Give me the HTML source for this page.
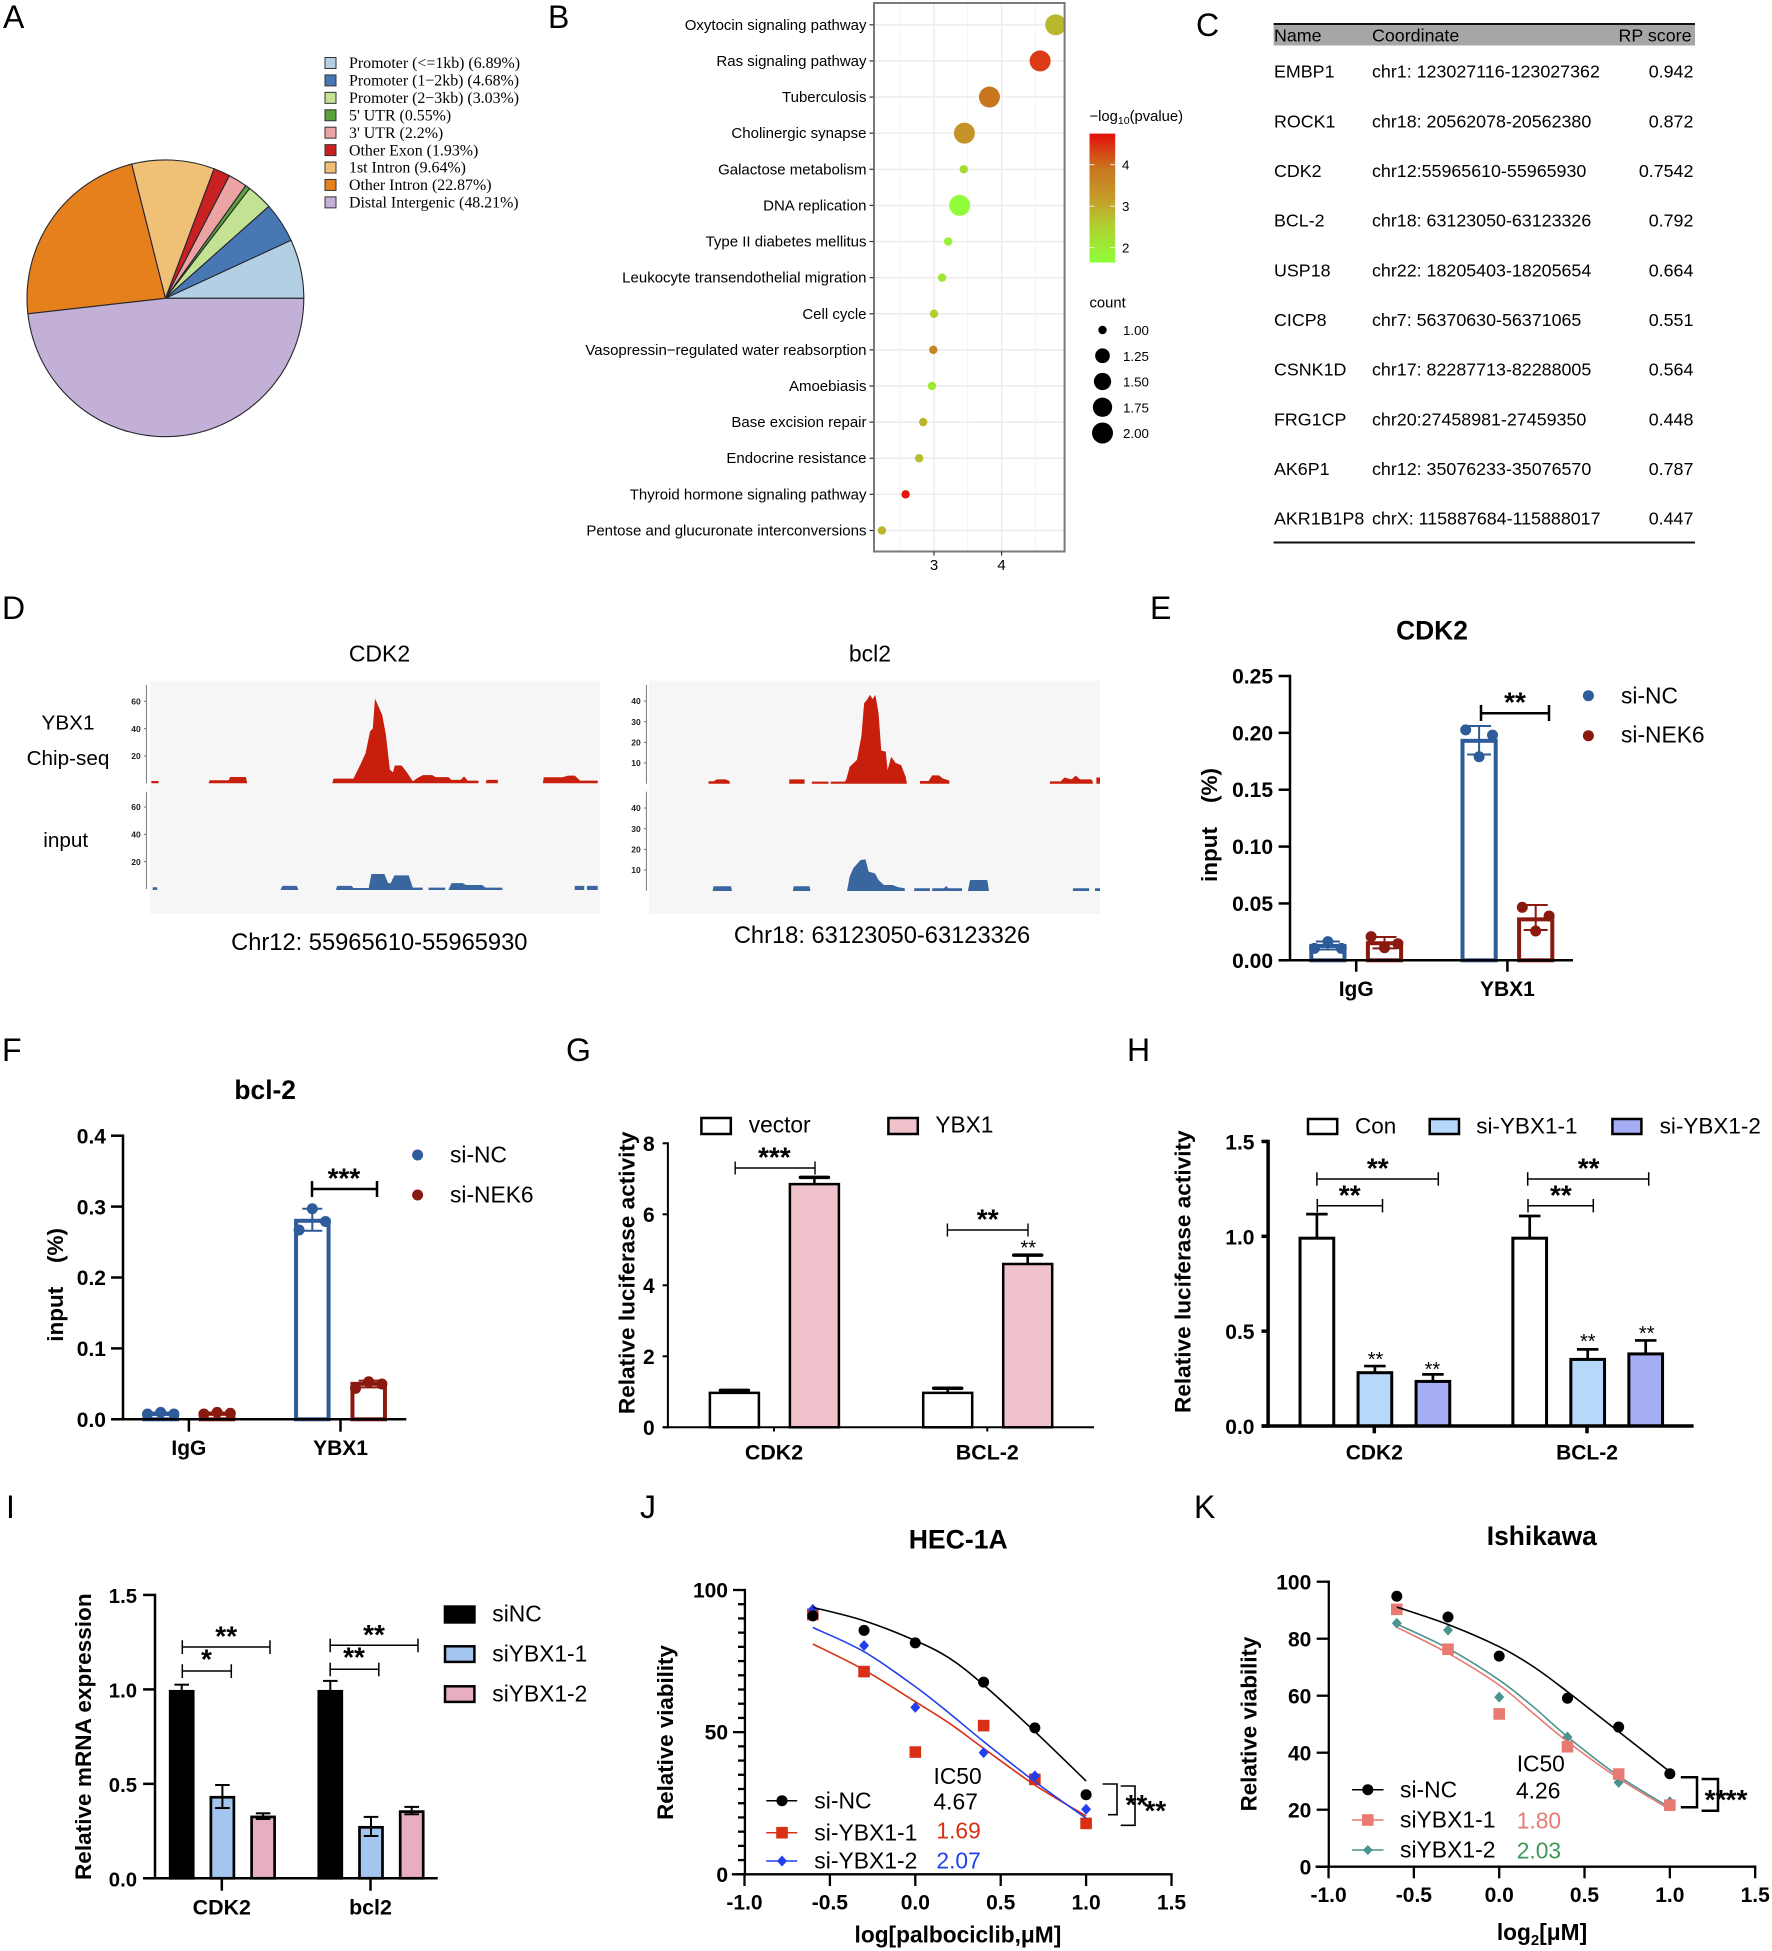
<!DOCTYPE html>
<html lang="en">
<head>
<meta charset="utf-8">
<title>YBX1 ChIP-seq and viability figure</title>
<style>
html,body{margin:0;padding:0;background:#fff}
svg{display:block;filter:blur(0.35px)}
</style>
</head>
<body>
<svg id="fig" xmlns="http://www.w3.org/2000/svg" width="1772" height="1951" viewBox="0 0 1772 1951" font-family="'Liberation Sans', sans-serif">
<defs>
  <linearGradient id="cbar" x1="0" y1="1" x2="0" y2="0"></linearGradient>
  <clipPath id="bclip"><rect x="874" y="3" width="190.6" height="548.5"></rect></clipPath>
</defs>
<rect x="0" y="0" width="1772" height="1951" fill="#fff"/>

<g font-size="32">
  <text x="3" y="28">A</text>
  <text x="548" y="28">B</text>
  <text x="1196" y="36">C</text>
  <text x="2" y="619">D</text>
  <text x="1150" y="619">E</text>
  <text x="2" y="1061">F</text>
  <text x="566" y="1061">G</text>
  <text x="1127" y="1061">H</text>
  <text x="6" y="1518">I</text>
  <text x="640" y="1518">J</text>
  <text x="1194" y="1518">K</text>
</g>

<!-- Panel A -->
<g id="panel-a"></g>

<!-- Panel B -->
<g id="panel-b">
  <rect x="874" y="3" width="190.6" height="548.5" fill="#fff"/>
  <g id="panel-b-grid"></g>
  <g id="panel-b-dots" clip-path="url(#bclip)"></g>
  <rect x="874" y="3" width="190.6" height="548.5" fill="none" stroke="#7a7a7a" stroke-width="2"/>
  <text x="1089.5" y="121" font-size="14.8">−log<tspan font-size="10.5" dy="3">10</tspan><tspan dy="-3">(pvalue)</tspan></text>
  <rect x="1089.5" y="133.6" width="25.7" height="129" fill="url(#cbar)"/>
  <text x="1089.5" y="307.7" font-size="14.8">count</text>
</g>

<!-- Panel C -->
<g id="panel-c" font-size="17.85">
  <rect x="1273.6" y="24" width="421.4" height="21.5" fill="#a6a6a6"/>
  <line x1="1273.6" x2="1695" y1="24" y2="24" stroke="#111" stroke-width="2"/>
  <line x1="1273.6" x2="1695" y1="542.5" y2="542.5" stroke="#111" stroke-width="2"/>
  <text x="1274" y="41.5">Name</text>
  <text x="1372" y="41.5">Coordinate</text>
  <text x="1691.5" y="41.5" text-anchor="end">RP score</text>
  <g><text x="1274" y="77.6">EMBP1</text><text x="1372" y="77.6">chr1: 123027116-123027362</text><text x="1693.4" y="77.6" text-anchor="end">0.942</text></g>
  <g><text x="1274" y="127.3">ROCK1</text><text x="1372" y="127.3">chr18: 20562078-20562380</text><text x="1693.4" y="127.3" text-anchor="end">0.872</text></g>
  <g><text x="1274" y="176.9">CDK2</text><text x="1372" y="176.9">chr12:55965610-55965930</text><text x="1693.4" y="176.9" text-anchor="end">0.7542</text></g>
  <g><text x="1274" y="226.6">BCL-2</text><text x="1372" y="226.6">chr18: 63123050-63123326</text><text x="1693.4" y="226.6" text-anchor="end">0.792</text></g>
  <g><text x="1274" y="276.3">USP18</text><text x="1372" y="276.3">chr22: 18205403-18205654</text><text x="1693.4" y="276.3" text-anchor="end">0.664</text></g>
  <g><text x="1274" y="325.9">CICP8</text><text x="1372" y="325.9">chr7: 56370630-56371065</text><text x="1693.4" y="325.9" text-anchor="end">0.551</text></g>
  <g><text x="1274" y="375.6">CSNK1D</text><text x="1372" y="375.6">chr17: 82287713-82288005</text><text x="1693.4" y="375.6" text-anchor="end">0.564</text></g>
  <g><text x="1274" y="425.3">FRG1CP</text><text x="1372" y="425.3">chr20:27458981-27459350</text><text x="1693.4" y="425.3" text-anchor="end">0.448</text></g>
  <g><text x="1274" y="475">AK6P1</text><text x="1372" y="475">chr12: 35076233-35076570</text><text x="1693.4" y="475" text-anchor="end">0.787</text></g>
  <g><text x="1274" y="524.6">AKR1B1P8</text><text x="1372" y="524.6">chrX: 115887684-115888017</text><text x="1693.4" y="524.6" text-anchor="end">0.447</text></g>
</g>

<!-- Panel D -->
<g id="panel-d">
  <rect x="150" y="680.7" width="450" height="233.3" fill="#f6f6f6"/>
  <rect x="649" y="680.7" width="451" height="233.3" fill="#f6f6f6"/>
  <text x="379.5" y="661.7" font-size="23" text-anchor="middle">CDK2</text>
  <text x="870" y="661.7" font-size="23" text-anchor="middle">bcl2</text>
  <text x="68" y="729.3" font-size="20.7" text-anchor="middle">YBX1</text>
  <text x="68" y="765" font-size="20.7" text-anchor="middle">Chip-seq</text>
  <text x="65.7" y="847" font-size="20.7" text-anchor="middle">input</text>
  <text x="379.3" y="950" font-size="23.7" text-anchor="middle">Chr12: 55965610-55965930</text>
  <text x="882" y="943" font-size="23.7" text-anchor="middle">Chr18: 63123050-63123326</text>
</g>

<!-- Panel E -->
<g id="panel-e">
  <text x="1432" y="639.3" font-size="26.4" font-weight="bold" text-anchor="middle">CDK2</text>
  <text transform="translate(1217,882) rotate(-90)" font-size="22.5" font-weight="bold">input</text>
  <text transform="translate(1217,803) rotate(-90)" font-size="22.5" font-weight="bold">(%)</text>
  <path d="M1481 705V721M1481 713.3H1549M1549 705V721" fill="none" stroke="#000" stroke-width="2.5"/>
  <text x="1515" y="711.7" font-size="28" font-weight="bold" text-anchor="middle">**</text>
  <circle cx="1588.4" cy="695.7" r="5.5" fill="#2e5b9a"/>
  <text x="1621" y="703.3" font-size="22.8">si-NC</text>
  <circle cx="1588.4" cy="735.7" r="5.5" fill="#8a1a0f"/>
  <text x="1621" y="742.7" font-size="22.8">si-NEK6</text>
</g>

<!-- Panel F -->
<g id="panel-f">
  <text x="265.2" y="1099" font-size="26.4" font-weight="bold" text-anchor="middle">bcl-2</text>
  <text transform="translate(63.2,1341.7) rotate(-90)" font-size="22.5" font-weight="bold">input</text>
  <text transform="translate(63.2,1263) rotate(-90)" font-size="22.5" font-weight="bold">(%)</text>
  <path d="M312 1181V1197M312 1189H377M377 1181V1197" fill="none" stroke="#000" stroke-width="2.5"/>
  <text x="344" y="1187.7" font-size="28" font-weight="bold" text-anchor="middle">***</text>
  <circle cx="417.6" cy="1155" r="5.5" fill="#2e5b9a"/>
  <text x="450" y="1162.7" font-size="22.8">si-NC</text>
  <circle cx="417.6" cy="1195" r="5.5" fill="#8a1a0f"/>
  <text x="450" y="1202.7" font-size="22.8">si-NEK6</text>
</g>

<!-- Panel G -->
<g id="panel-g">
  <rect x="701.4" y="1118" width="29.4" height="16" fill="#fff" stroke="#000" stroke-width="2.5"/>
  <text x="748.8" y="1132.7" font-size="22.7">vector</text>
  <rect x="888.4" y="1118" width="29.4" height="16" fill="#f0c2cb" stroke="#000" stroke-width="2.5"/>
  <text x="935.4" y="1132.7" font-size="22.7">YBX1</text>
  <text transform="translate(634.4,1272.8) rotate(-90)" font-size="22.6" font-weight="bold" text-anchor="middle">Relative luciferase activity</text>
  <path d="M735.2 1161.5V1174.5M735.2 1168H815M815 1161.5V1174.5" fill="none" stroke="#000" stroke-width="1.4"/>
  <text x="774.3" y="1166.7" font-size="28" font-weight="bold" text-anchor="middle">***</text>
  <path d="M947.4 1223.5V1236.5M947.4 1230H1028M1028 1223.5V1236.5" fill="none" stroke="#000" stroke-width="1.4"/>
  <text x="987.7" y="1228.7" font-size="28" font-weight="bold" text-anchor="middle">**</text>
  <text x="1028.3" y="1254.6" font-size="20" text-anchor="middle">**</text>
</g>

<!-- Panel H -->
<g id="panel-h">
  <rect x="1308" y="1119" width="29.2" height="15" fill="#fff" stroke="#000" stroke-width="2.5"/>
  <text x="1355" y="1133.3" font-size="22.5">Con</text>
  <rect x="1429.7" y="1119" width="29.3" height="15" fill="#b5d8fb" stroke="#000" stroke-width="2.5"/>
  <text x="1476.2" y="1133.3" font-size="22.5">si-YBX1-1</text>
  <rect x="1612.4" y="1119" width="29" height="15" fill="#a5aef5" stroke="#000" stroke-width="2.5"/>
  <text x="1659.6" y="1133.3" font-size="22.5">si-YBX1-2</text>
  <text transform="translate(1190.4,1271.7) rotate(-90)" font-size="22.6" font-weight="bold" text-anchor="middle">Relative luciferase activity</text>
  <path d="M1316.9 1172.3V1185.7M1316.9 1179H1438.3M1438.3 1172.3V1185.7" fill="none" stroke="#000" stroke-width="1.5"/>
  <path d="M1317.3 1199V1212.4M1317.3 1205.7H1382.5M1382.5 1199V1212.4" fill="none" stroke="#000" stroke-width="1.5"/>
  <path d="M1527.7 1172.3V1185.7M1527.7 1179H1648.7M1648.7 1172.3V1185.7" fill="none" stroke="#000" stroke-width="1.5"/>
  <path d="M1528 1199V1212.4M1528 1205.7H1593.3M1593.3 1199V1212.4" fill="none" stroke="#000" stroke-width="1.5"/>
  <g font-size="28" font-weight="bold" text-anchor="middle">
    <text x="1377.8" y="1177.7">**</text><text x="1349.7" y="1204.7">**</text><text x="1588.6" y="1177.7">**</text><text x="1560.9" y="1204.7">**</text>
  </g>
  <g font-size="20" text-anchor="middle">
    <text x="1375.5" y="1366">**</text><text x="1432.4" y="1376">**</text><text x="1587.8" y="1348">**</text><text x="1646.7" y="1340">**</text>
  </g>
</g>

<!-- Panel I -->
<g id="panel-i">
  <text transform="translate(91,1736.7) rotate(-90)" font-size="22.6" font-weight="bold" text-anchor="middle">Relative mRNA expression</text>
  <rect x="443.7" y="1605.3" width="32" height="18.4" fill="#000"/>
  <text x="492.3" y="1621.7" font-size="22.8">siNC</text>
  <rect x="445" y="1646.3" width="29.4" height="15.6" fill="#a3c5ee" stroke="#000" stroke-width="2.5"/>
  <text x="492.3" y="1661.7" font-size="22.8">siYBX1-1</text>
  <rect x="445" y="1686.3" width="29.4" height="15.6" fill="#e7aec2" stroke="#000" stroke-width="2.5"/>
  <text x="492.3" y="1701.7" font-size="22.8">siYBX1-2</text>
  <path d="M182.3 1640.3V1654M182.3 1647H270M270 1640.3V1654" fill="none" stroke="#000" stroke-width="1.5"/>
  <path d="M182.3 1664.3V1678M182.3 1671H231.3M231.3 1664.3V1678" fill="none" stroke="#000" stroke-width="1.5"/>
  <path d="M330.2 1638.6V1652.3M330.2 1645.3H418M418 1638.6V1652.3" fill="none" stroke="#000" stroke-width="1.5"/>
  <path d="M330.2 1662.6V1676.3M330.2 1669.3H378.8M378.8 1662.6V1676.3" fill="none" stroke="#000" stroke-width="1.5"/>
  <g font-size="28" font-weight="bold" text-anchor="middle">
    <text x="226.2" y="1645.7">**</text><text x="206.4" y="1668.7">*</text><text x="374" y="1644.2">**</text><text x="354" y="1666.7">**</text>
  </g>
</g>

<!-- Panel J -->
<g id="panel-j">
  <text x="958.2" y="1548.3" font-size="26.6" font-weight="bold" text-anchor="middle">HEC-1A</text>
  <text transform="translate(672.9,1732.5) rotate(-90)" font-size="22.3" font-weight="bold" text-anchor="middle">Relative viability</text>
  <text x="957.9" y="1942.7" font-size="22.7" font-weight="bold" text-anchor="middle">log[palbociclib,μM]</text>
  <g>
    <line x1="766.3" x2="797.2" y1="1800.7" y2="1800.7" stroke="#000" stroke-width="1.5"/><circle cx="782" cy="1800.7" r="5.5" fill="#000"/>
    <text x="814.3" y="1808.3" font-size="22.9">si-NC</text>
  </g>
  <g>
    <line x1="766.3" x2="797.2" y1="1832.7" y2="1832.7" stroke="#d93015" stroke-width="1.5"/><rect x="776.2" y="1826.9" width="11.6" height="11.6" fill="#d93015"/>
    <text x="814.3" y="1840.7" font-size="22.9">si-YBX1-1</text>
  </g>
  <g>
    <line x1="766.3" x2="797.2" y1="1861" y2="1861" stroke="#2040f0" stroke-width="1.5"/><path d="M782 1855.5L787 1861L782 1866.5L777 1861Z" fill="#2040f0"/>
    <text x="814.3" y="1868.7" font-size="22.9">si-YBX1-2</text>
  </g>
  <text x="933.5" y="1784" font-size="22.8">IC50</text>
  <text x="933.5" y="1809.3" font-size="22.8">4.67</text>
  <text x="936.4" y="1838.3" font-size="22.8" fill="#d93015">1.69</text>
  <text x="936.4" y="1868.3" font-size="22.8" fill="#2040f0">2.07</text>
  <path d="M1102.6 1784H1117V1814.7H1108" fill="none" stroke="#000" stroke-width="1.6"/>
  <path d="M1120.7 1786H1135V1825.3H1120.7" fill="none" stroke="#000" stroke-width="1.6"/>
  <text x="1136.4" y="1814" font-size="28" font-weight="bold" text-anchor="middle">**</text>
  <text x="1155.3" y="1820" font-size="28" font-weight="bold" text-anchor="middle">**</text>
</g>

<!-- Panel K -->
<g id="panel-k">
  <text x="1541.8" y="1545" font-size="26.4" font-weight="bold" text-anchor="middle">Ishikawa</text>
  <text transform="translate(1256.5,1724) rotate(-90)" font-size="22.3" font-weight="bold" text-anchor="middle">Relative viability</text>
  <text x="1542" y="1940" font-size="22.7" font-weight="bold" text-anchor="middle">log<tspan font-size="15" dy="5">2</tspan><tspan dy="-5">[μM]</tspan></text>
  <g>
    <line x1="1352" x2="1383.5" y1="1789.7" y2="1789.7" stroke="#000" stroke-width="1.5"/><circle cx="1367.8" cy="1789.7" r="5.5" fill="#000"/>
    <text x="1400" y="1797.3" font-size="22.9">si-NC</text>
  </g>
  <g>
    <line x1="1352" x2="1383.5" y1="1820" y2="1820" stroke="#e87a74" stroke-width="1.5"/><rect x="1362" y="1814.2" width="11.6" height="11.6" fill="#e87a74"/>
    <text x="1400" y="1827.7" font-size="22.9">siYBX1-1</text>
  </g>
  <g>
    <line x1="1352" x2="1383.5" y1="1850" y2="1850" stroke="#4a9490" stroke-width="1.5"/><path d="M1367.8 1845L1372.8 1850L1367.8 1855L1362.8 1850Z" fill="#4a9490"/>
    <text x="1400" y="1857.7" font-size="22.9">siYBX1-2</text>
  </g>
  <text x="1516.7" y="1771.7" font-size="22.8">IC50</text>
  <text x="1516" y="1798.3" font-size="22.8">4.26</text>
  <text x="1516.7" y="1828.3" font-size="22.8" fill="#e87a74">1.80</text>
  <text x="1516.7" y="1858.3" font-size="22.8" fill="#3f9a55">2.03</text>
  <path d="M1680.8 1777.3H1697V1807.3H1680.8" fill="none" stroke="#000" stroke-width="2.5"/>
  <path d="M1701.6 1779H1718V1810.7H1701.6" fill="none" stroke="#000" stroke-width="2.5"/>
  <text x="1715.5" y="1809" font-size="28" font-weight="bold" text-anchor="middle">**</text>
  <text x="1736.5" y="1809" font-size="28" font-weight="bold" text-anchor="middle">**</text>
</g>

<script>
/* ---------- Panel A data ---------- */
const pieLabels = ['Promoter (<=1kb)', 'Promoter (1−2kb)', 'Promoter (2−3kb)', "5' UTR", "3' UTR", 'Other Exon', '1st Intron', 'Other Intron', 'Distal Intergenic'];
const pieValues = [6.89, 4.68, 3.03, 0.55, 2.2, 1.93, 9.64, 22.87, 48.21];

/* ---------- Panel B data ---------- */
const bPathways = ['Oxytocin signaling pathway', 'Ras signaling pathway', 'Tuberculosis', 'Cholinergic synapse', 'Galactose metabolism', 'DNA replication', 'Type II diabetes mellitus', 'Leukocyte transendothelial migration', 'Cell cycle', 'Vasopressin−regulated water reabsorption', 'Amoebiasis', 'Base excision repair', 'Endocrine resistance', 'Thyroid hormone signaling pathway', 'Pentose and glucuronate interconversions'];
const bEnrichment = [4.80, 4.57, 3.82, 3.45, 3.44, 3.38, 3.21, 3.12, 3.0, 2.99, 2.97, 2.84, 2.78, 2.58, 2.23];
const bCounts = [2, 2, 2, 2, 1, 2, 1, 1, 1, 1, 1, 1, 1, 1, 1];
const bPvalues = [2.85, 4.4, 3.9, 3.35, 2.3, 1.7, 1.9, 2.1, 2.5, 3.6, 2.1, 2.85, 2.75, 4.7, 2.85];
const bXTicks = [3, 4];
const bXMinor = [2.5, 3.5, 4.5];
const bColorTicks = [2, 3, 4];
const bCountLegend = [1, 1.25, 1.5, 1.75, 2];
const bCountLabels = ['1.00', '1.25', '1.50', '1.75', '2.00'];

/* ---------- Panel D data (position = % of window, value = signal) ---------- */
const dCdk2ChipPos = [0.3, 0.3, 1.9, 1.9, 13.0, 13.3, 16.8, 17.5, 17.8, 21.3, 21.6, 40.5, 40.8, 45.2, 45.9, 46.8, 47.9, 48.9, 49.5, 50.0, 50.8, 51.6, 52.4, 53.3, 54.0, 54.4, 55.9, 57.1, 58.4, 59.5, 60.6, 62.7, 63.5, 66.3, 67.0, 69.0, 69.8, 70.6, 73.0, 73.0, 74.6, 74.8, 77.3, 77.3, 87.3, 87.5, 91.7, 92.9, 94.4, 95.6, 99.5, 99.5];
const dCdk2ChipVal = [0, 1.7, 1.7, 0, 0, 2.2, 2.2, 2.2, 4.6, 4.6, 0, 0, 3.4, 3.4, 8, 14, 22, 38, 40, 62, 56, 50, 36, 10, 8, 13, 13, 8, 1.5, 4, 6, 6, 4.5, 4.5, 2.5, 2.5, 5, 2, 2, 0, 0, 2.5, 2.5, 0, 0, 4.4, 4.4, 5.6, 5.6, 2, 2, 0];
const dCdk2InputPos = [0.6, 0.6, 1.6, 1.6, 29.0, 29.4, 32.6, 33.0, 41.3, 41.6, 44.8, 45.2, 48.6, 49.2, 52.1, 52.9, 53.5, 54.3, 57.5, 58.4, 60.6, 60.6, 61.9, 61.9, 65.6, 65.6, 66.3, 67.0, 69.5, 70.2, 73.8, 74.6, 78.3, 78.3, 94.4, 94.4, 96.5, 96.5, 97.1, 97.1, 99.5, 99.5];
const dCdk2InputVal = [0, 2, 2, 0, 0, 3, 3, 0, 0, 3, 3, 1.5, 1.5, 11.7, 11.7, 5, 5, 10.7, 10.7, 1.7, 1.7, 0, 0, 1.7, 1.7, 0, 0, 5, 5, 3.7, 3.7, 1.7, 1.7, 0, 0, 3, 3, 0, 0, 3, 3, 0];
const dBcl2ChipPos = [13.2, 13.2, 14.4, 15, 17, 17.9, 17.9, 31.1, 31.1, 34.5, 34.5, 36.1, 36.1, 39.8, 39.8, 40.3, 40.3, 43.4, 43.7, 44.5, 46.1, 47.1, 47.7, 48.3, 49.0, 49.6, 50.2, 50.9, 51.5, 52.5, 52.9, 53.7, 54.7, 55.9, 56.9, 57.2, 60.1, 60.1, 62, 62.8, 64.3, 65.1, 66.6, 66.6, 88.9, 88.9, 91.3, 92.1, 93.7, 94.6, 95.6, 98.1, 98.4, 98.4, 99.2, 99.2, 100, 100];
const dBcl2ChipVal = [0, 1.2, 1.2, 2.1, 2.1, 1.2, 0, 0, 2.1, 2.1, 0, 0, 1, 1, 0, 0, 1, 1, 1.8, 8.2, 11.5, 23, 39, 40.5, 43, 41, 43, 34, 16, 15.5, 6.6, 13, 10, 9, 3.4, 0, 0, 1.3, 1.3, 4, 4, 2.6, 1.5, 0, 0, 1.1, 1.1, 3, 2.1, 3.9, 2.1, 2.1, 1, 0, 0, 3, 3, 0];
const dBcl2InputPos = [14.1, 14.3, 18.2, 18.4, 31.9, 32.1, 35.6, 35.8, 43.9, 44.5, 45.3, 46.9, 48.0, 48.7, 50.1, 50.9, 52.1, 54.0, 55.3, 56.7, 56.7, 58.8, 58.8, 62.3, 62.3, 62.8, 62.8, 65.4, 65.9, 66.4, 69.4, 69.4, 70.7, 71.2, 75.0, 75.4, 94, 94, 97.6, 97.6, 98.9, 98.9, 100, 100];
const dBcl2InputVal = [0, 2.3, 2.3, 0, 0, 2.3, 2.3, 0, 0, 7, 11, 15, 15.3, 9.4, 8.5, 5.3, 2.9, 2.9, 1.8, 1.3, 0, 0, 1.3, 1.3, 0, 0, 1.3, 1.3, 2.4, 1.3, 1.3, 0, 0, 5.3, 5.3, 0, 0, 1.3, 1.3, 0, 0, 1.3, 1.3, 0];
const dCdk2Ticks = [20, 40, 60];
const dBcl2Ticks = [10, 20, 30, 40];

/* ---------- Panel E data ---------- */
const eCategories = ['IgG', 'YBX1'];
const eYTicks = [0, 0.05, 0.10, 0.15, 0.20, 0.25];
const eYLabels = ['0.00', '0.05', '0.10', '0.15', '0.20', '0.25'];
const eNcMeans = [0.0126, 0.193];
const eNcLow = [0.0095, 0.181];
const eNcHigh = [0.0165, 0.206];
const eNcDots = [[0.0105, 0.0164, 0.0105], [0.2026, 0.179, 0.198]];
const eNekMeans = [0.015, 0.036];
const eNekLow = [0.0105, 0.0266];
const eNekHigh = [0.0205, 0.0486];
const eNekDots = [[0.0208, 0.011, 0.0146], [0.0466, 0.0258, 0.039]];

/* ---------- Panel F data ---------- */
const fCategories = ['IgG', 'YBX1'];
const fYTicks = [0, 0.1, 0.2, 0.3, 0.4];
const fYLabels = ['0.0', '0.1', '0.2', '0.3', '0.4'];
const fNcMeans = [0.008, 0.28];
const fNcLow = [0.006, 0.266];
const fNcHigh = [0.0095, 0.297];
const fNcDots = [[0.0075, 0.0098, 0.0075], [0.267, 0.297, 0.279]];
const fNekMeans = [0.008, 0.05];
const fNekLow = [0.0065, 0.045];
const fNekHigh = [0.0095, 0.0545];
const fNekDots = [[0.0075, 0.0098, 0.0085], [0.0437, 0.053, 0.0498]];

/* ---------- Panel G data ---------- */
const gCategories = ['CDK2', 'BCL-2'];
const gYTicks = [0, 2, 4, 6, 8];
const gYLabels = ['0', '2', '4', '6', '8'];
const gVectorMeans = [0.97, 0.97];
const gVectorHigh = [1.04, 1.1];
const gYbx1Means = [6.85, 4.6];
const gYbx1High = [7.04, 4.85];

/* ---------- Panel H data ---------- */
const hCategories = ['CDK2', 'BCL-2'];
const hYTicks = [0, 0.5, 1.0, 1.5];
const hYLabels = ['0.0', '0.5', '1.0', '1.5'];
const hConMeans = [0.99, 0.99];
const hConHigh = [1.117, 1.107];
const hSi1Means = [0.281, 0.351];
const hSi1High = [0.316, 0.404];
const hSi2Means = [0.235, 0.38];
const hSi2High = [0.272, 0.451];

/* ---------- Panel I data ---------- */
const iCategories = ['CDK2', 'bcl2'];
const iYTicks = [0, 0.5, 1.0, 1.5];
const iYLabels = ['0.0', '0.5', '1.0', '1.5'];
const iNcMeans = [0.99, 0.99];
const iNcLow = [0.99, 0.99];
const iNcHigh = [1.025, 1.045];
const iSi1Means = [0.429, 0.27];
const iSi1Low = [0.372, 0.224];
const iSi1High = [0.494, 0.325];
const iSi2Means = [0.325, 0.353];
const iSi2Low = [0.314, 0.339];
const iSi2High = [0.344, 0.378];

/* ---------- Panels J and K data ---------- */
const doseXTicks = [-1, -0.5, 0, 0.5, 1, 1.5];
const doseXLabels = ['-1.0', '-0.5', '0.0', '0.5', '1.0', '1.5'];
const dosePointX = [-0.6, -0.3, 0, 0.4, 0.7, 1.0];
const doseCurveX = [-0.6, -0.3, 0, 0.2, 0.4, 0.7, 1.0];
const jYTicks = [0, 50, 100];
const jYLabels = ['0', '50', '100'];
const jYMinor = [5, 10, 15, 20, 25, 30, 35, 40, 45, 55, 60, 65, 70, 75, 80, 85, 90, 95];
const jNcPoints = [90.9, 85.8, 81.4, 67.6, 51.5, 28];
const jSi1Points = [91.4, 71.3, 43, 52.3, 33.4, 17.9];
const jSi2Points = [93.2, 80.5, 58.7, 42.8, 34.6, 22.9];
const jNcCurve = [93.9, 89.2, 82.2, 76, 66.6, 50.2, 32.8];
const jSi1Curve = [81, 71.9, 60.7, 53.1, 44.3, 31.4, 20.5];
const jSi2Curve = [86.8, 78.3, 66, 56.6, 46.7, 32.6, 19.7];
const kYTicks = [0, 20, 40, 60, 80, 100];
const kYLabels = ['0', '20', '40', '60', '80', '100'];
const kNcPoints = [94.9, 87.6, 73.9, 59.1, 49, 32.6];
const kSi1Points = [90.3, 76.3, 53.6, 42.1, 32.5, 21.6];
const kSi2Points = [85.4, 83, 59.5, 45.5, 29.6, 22.8];
const kNcCurve = [91.1, 85, 77.2, 70.2, 61.4, 47.4, 33.3];
const kSi1Curve = [84, 74.9, 63.7, 53.8, 43.9, 31, 20.1];
const kSi2Curve = [85.1, 76.6, 65.5, 56.1, 45.6, 31.8, 20.8];

/* ---------- helpers ---------- */
const NS = 'http://www.w3.org/2000/svg';
function node(tag, parent, geo, text) {
  const n = document.createElementNS(NS, tag);
  for (const k in geo) n.setAttribute(k, geo[k]);
  if (text !== undefined) n.textContent = text;
  parent.appendChild(n);
  return n;
}
function panel(id) { return document.getElementById(id); }
function linearY(y0, k) { return v => y0 - v * k; }
function linearX(xAtZero, k) { return v => xAtZero + v * k; }

function drawYAxis(g, yS, c) {
  const top = Math.max.apply(null, c.ticks);
  const axis = node('line', g, { x1: c.x, x2: c.x, y1: yS(top), y2: yS(0), stroke: '#000', 'stroke-width': c.lw, 'stroke-linecap': 'square' });
  
  
  c.ticks.forEach((t, i) => {
    const tick = node('line', g, { x1: c.tickX, x2: c.x, y1: yS(t), y2: yS(t), stroke: '#000', 'stroke-width': c.lw });
    
    
    const lab = node('text', g, { x: c.labelX, y: yS(t) + c.dy, 'font-size': c.fs, 'font-weight': 'bold', 'text-anchor': 'end' }, c.labels[i]);
    
    
  });
  (c.minor || []).forEach(t => {
    const tick = node('line', g, { x1: c.minorX, x2: c.x, y1: yS(t), y2: yS(t), stroke: '#000', 'stroke-width': c.lw });
    
    
  });
}
function drawCatAxis(g, c) {
  const axis = node('line', g, { x1: c.x1, x2: c.x2, y1: c.y, y2: c.y, stroke: '#000', 'stroke-width': c.lw });
  
  
  c.cats.forEach((cat, i) => {
    const tick = node('line', g, { x1: c.catX(i), x2: c.catX(i), y1: c.y, y2: c.tickBottom, stroke: '#000', 'stroke-width': c.lw });
    
    
    const lab = node('text', g, { x: c.catX(i), y: c.labelY, 'font-size': c.fs, 'font-weight': 'bold', 'text-anchor': 'middle' }, cat);
    
    
  });
}
function drawNumXAxis(g, xS, c) {
  const axis = node('line', g, { x1: c.x1, x2: xS(c.ticks[c.ticks.length - 1]), y1: c.y, y2: c.y, stroke: '#000', 'stroke-width': c.lw, 'stroke-linecap': 'square' });
  
  
  c.ticks.forEach((t, i) => {
    const tick = node('line', g, { x1: xS(t), x2: xS(t), y1: c.y, y2: c.tickBottom, stroke: '#000', 'stroke-width': c.lw });
    
    
    const lab = node('text', g, { x: xS(t), y: c.labelY, 'font-size': c.fs, 'font-weight': 'bold', 'text-anchor': 'middle' }, c.labels[i]);
    
    
  });
}
function drawBars(g, yS, s) {
  s.means.forEach((m, i) => {
    const cx = s.catX(i) + s.offset;
    const bar = node('rect', g, { x: cx - s.width / 2, y: yS(m), width: s.width, height: yS(0) - yS(m), fill: s.fill, stroke: s.stroke, 'stroke-width': s.strokeW });
    
    
    if (s.high) {
      const lowV = s.low ? s.low[i] : m;
      const err = node('line', g, { x1: cx, x2: cx, y1: yS(lowV), y2: yS(s.high[i]), stroke: s.errColor, 'stroke-width': s.errW });
      
      
      const capHi = node('line', g, { x1: cx - s.capW / 2, x2: cx + s.capW / 2, y1: yS(s.high[i]), y2: yS(s.high[i]), stroke: s.errColor, 'stroke-width': s.capT || s.errW, 'stroke-linecap': s.capRound ? 'round' : 'butt' });
      
      
      if (s.low) {
        const capLo = node('line', g, { x1: cx - s.capW / 2, x2: cx + s.capW / 2, y1: yS(s.low[i]), y2: yS(s.low[i]), stroke: s.errColor, 'stroke-width': s.errW });
        
        
      }
    }
    if (s.dots) {
      s.dots[i].forEach((d, j) => {
        const dot = node('circle', g, { cx: cx + (j - 1) * s.dotStep, cy: yS(d), r: 5.5, fill: s.stroke });
        
        
      });
    }
  });
}
function smoothPath(xs, ys) {
  let d = 'M' + xs[0].toFixed(2) + ' ' + ys[0].toFixed(2);
  for (let i = 0; i < xs.length - 1; i++) {
    const i0 = Math.max(i - 1, 0), i3 = Math.min(i + 2, xs.length - 1);
    const c1x = xs[i] + (xs[i + 1] - xs[i0]) / 6, c1y = ys[i] + (ys[i + 1] - ys[i0]) / 6;
    const c2x = xs[i + 1] - (xs[i3] - xs[i]) / 6, c2y = ys[i + 1] - (ys[i3] - ys[i]) / 6;
    d += 'C' + c1x.toFixed(2) + ' ' + c1y.toFixed(2) + ' ' + c2x.toFixed(2) + ' ' + c2y.toFixed(2) + ' ' + xs[i + 1].toFixed(2) + ' ' + ys[i + 1].toFixed(2);
  }
  return d;
}
function drawDoseSeries(g, xS, yS, s) {
  const curve = node('path', g, { d: smoothPath(doseCurveX.map(xS), s.curve.map(yS)), fill: 'none', stroke: s.color, 'stroke-width': 1.6 });
  
  
  dosePointX.forEach((x, i) => {
    const px = xS(x), py = yS(s.points[i]);
    let m;
    if (s.shape === 'circle') m = node('circle', g, { cx: px, cy: py, r: 5.5, fill: s.color });
    else if (s.shape === 'square') m = node('rect', g, { x: px - 5.8, y: py - 5.8, width: 11.6, height: 11.6, fill: s.color });
    else m = node('path', g, { d: 'M' + px + ' ' + (py - 5.5) + 'L' + (px + 5) + ' ' + py + 'L' + px + ' ' + (py + 5.5) + 'L' + (px - 5) + ' ' + py + 'Z', fill: s.color });
    
    
  });
}

/* ---------- Panel A ---------- */
(function () {
  const g = panel('panel-a');
  const colors = ['#b2cfe3', '#4878b4', '#c3e294', '#5aa23c', '#eba3a3', '#c92122', '#f0c077', '#e6801c', '#c2b0d6'];
  const cx = 165.4, cy = 298.3, r = 138.4;
  const total = pieValues.reduce((a, b) => a + b, 0);
  let acc = 0;
  pieValues.forEach((v, i) => {
    const a0 = acc / total * 2 * Math.PI;
    acc += v;
    const a1 = acc / total * 2 * Math.PI;
    const large = a1 - a0 > Math.PI ? 1 : 0;
    const d = 'M' + cx + ' ' + cy + 'L' + (cx + r * Math.cos(a0)) + ' ' + (cy - r * Math.sin(a0)) + 'A' + r + ' ' + r + ' 0 ' + large + ' 0 ' + (cx + r * Math.cos(a1)) + ' ' + (cy - r * Math.sin(a1)) + 'Z';
    const slice = node('path', g, { d: d, fill: colors[i], stroke: '#26262e', 'stroke-width': 1.1 });
    
    
    const ly = 63 + i * 17.42;
    const sw = node('rect', g, { x: 325, y: ly - 5.5, width: 11, height: 11, fill: colors[i], stroke: '#333', 'stroke-width': 1 });
    
    
    const t = node('text', g, { x: 349, y: ly + 5.2, 'font-size': 15.9, 'font-family': "'Liberation Serif', serif" }, pieLabels[i] + ' (' + v + '%)');
    
    
  });
})();

/* ---------- Panel B ---------- */
(function () {
  const g = panel('panel-b'), grid = panel('panel-b-grid'), dots = panel('panel-b-dots');
  const xS = v => 934 + (v - 3) * 67.6;
  const yS = i => 24.8 + i * 36.12;
  const stopV = [1.64, 2.6, 3.2, 3.9, 4.75];
  const stopC = [[143, 255, 58], [179, 203, 47], [198, 154, 42], [200, 119, 31], [230, 15, 12]];
  function hex(c) { return 'rgb(' + c.map(Math.round).join(',') + ')'; }
  function pColor(p) {
    for (let i = 0; i < stopV.length - 1; i++) {
      if (p <= stopV[i + 1]) {
        const t = Math.max(0, (p - stopV[i]) / (stopV[i + 1] - stopV[i]));
        return hex(stopC[i].map((a, k) => a + (stopC[i + 1][k] - a) * t));
      }
    }
    return hex(stopC[stopC.length - 1]);
  }
  const grad = document.getElementById('cbar');
  stopV.forEach((v, i) => {
    node('stop', grad, { offset: (v - 1.64) / (4.75 - 1.64), 'stop-color': hex(stopC[i]) });
  });
  bXMinor.forEach(v => {
    const l = node('line', grid, { x1: xS(v), x2: xS(v), y1: 3, y2: 551, stroke: '#f0f0f0', 'stroke-width': 0.8 });
    
    
  });
  bXTicks.forEach(v => {
    const l = node('line', grid, { x1: xS(v), x2: xS(v), y1: 3, y2: 551, stroke: '#ebebeb', 'stroke-width': 1.4 });
    
    
    const t = node('line', g, { x1: xS(v), x2: xS(v), y1: 551.5, y2: 555.5, stroke: '#333', 'stroke-width': 1.2 });
    
    
    const lab = node('text', g, { x: xS(v), y: 570, 'font-size': 15, 'text-anchor': 'middle' }, String(v));
    
    
  });
  bPathways.forEach((name, i) => {
    const l = node('line', grid, { x1: 874, x2: 1064.6, y1: yS(i), y2: yS(i), stroke: '#ebebeb', 'stroke-width': 1.4 });
    
    
    const t = node('line', g, { x1: 869.5, x2: 873.5, y1: yS(i), y2: yS(i), stroke: '#333', 'stroke-width': 1.2 });
    
    
    const lab = node('text', g, { x: 866.5, y: yS(i) + 5, 'font-size': 15, 'text-anchor': 'end' }, name);
    
    
    const dia = 8.4 + 12.6 * Math.sqrt(bCounts[i] - 1);
    const dot = node('circle', dots, { cx: xS(bEnrichment[i]), cy: yS(i), r: dia / 2, fill: pColor(bPvalues[i]) });
    
    
  });
  const cbY = v => 133.6 + (4.75 - v) / (4.75 - 1.64) * 129;
  bColorTicks.forEach(v => {
    const a = node('line', g, { x1: 1089.5, x2: 1094.5, y1: cbY(v), y2: cbY(v), stroke: '#fff', 'stroke-width': 0.8 });
    
    
    const b = node('line', g, { x1: 1110.2, x2: 1115.2, y1: cbY(v), y2: cbY(v), stroke: '#fff', 'stroke-width': 0.8 });
    
    
    const lab = node('text', g, { x: 1122, y: cbY(v) + 5, 'font-size': 13.3 }, String(v));
    
    
  });
  bCountLegend.forEach((c, i) => {
    const y = 330 + i * 25.75;
    const dia = 8.4 + 12.6 * Math.sqrt(c - 1);
    const dot = node('circle', g, { cx: 1102.5, cy: y, r: dia / 2, fill: '#000' });
    
    
    const lab = node('text', g, { x: 1123, y: y + 5, 'font-size': 13.3 }, bCountLabels[i]);
    
    
  });
})();

/* ---------- Panel D ---------- */
(function () {
  const g = panel('panel-d');
  function track(name, pos, val, color, xL, xR, y0, k) {
    const xS = p => xL + p / 100 * (xR - xL);
    const yS = v => y0 - v * k;
    let d = 'M' + xS(pos[0]) + ' ' + y0;
    pos.forEach((p, i) => { d += 'L' + xS(p).toFixed(2) + ' ' + yS(val[i]).toFixed(2); });
    d += 'L' + xS(pos[pos.length - 1]) + ' ' + y0 + 'Z';
    const area = node('path', g, { d: d, fill: color });
    
    
  }
  function axis(name, ticks, x, labelX, yTop, y0, k) {
    const a = node('line', g, { x1: x, x2: x, y1: yTop, y2: y0, stroke: '#777', 'stroke-width': 1 });
    
    
    ticks.forEach(t => {
      const y = y0 - t * k;
      const tk = node('line', g, { x1: x - 2.5, x2: x, y1: y, y2: y, stroke: '#777', 'stroke-width': 1 });
      
      
      const lab = node('text', g, { x: labelX, y: y + 3.2, 'font-size': 8.5, 'font-weight': 'bold', 'text-anchor': 'end', fill: '#222' }, String(t));
      
      
    });
  }
  const kL = 27.33 / 20, kR = 20.67 / 10;
  track('cdk2-chip', dCdk2ChipPos, dCdk2ChipVal, '#c81e0c', 150, 600, 783.3, kL);
  track('cdk2-input', dCdk2InputPos, dCdk2InputVal, '#3a669f', 150, 600, 890, kL);
  track('bcl2-chip', dBcl2ChipPos, dBcl2ChipVal, '#c81e0c', 649, 1100, 783.7, kR);
  track('bcl2-input', dBcl2InputPos, dBcl2InputVal, '#3a669f', 649, 1100, 891, kR);
  axis('cdk2-chip', dCdk2Ticks, 146.4, 140.7, 685, 783.3, kL);
  axis('cdk2-input', dCdk2Ticks, 146.4, 140.7, 791.7, 889, kL);
  axis('bcl2-chip', dBcl2Ticks, 646.4, 640.7, 685, 783.7, kR);
  axis('bcl2-input', dBcl2Ticks, 646.4, 640.7, 791.7, 890.7, kR);
})();

/* ---------- Panel E ---------- */
(function () {
  const g = panel('panel-e');
  const yS = linearY(960.3, 284.3 / 0.25);
  const catX = i => 1356.2 + i * 151.2;
  const blue = { offset: -28.3, width: 33.2, fill: '#fff', stroke: '#2e5b9a', strokeW: 4, errColor: '#2e5b9a', errW: 2, capW: 24, dotStep: 13.4, catX: catX };
  const red = { offset: 28.3, width: 33.2, fill: '#fff', stroke: '#8a1a0f', strokeW: 4, errColor: '#8a1a0f', errW: 2, capW: 24, dotStep: 13.4, catX: catX };
  drawBars(g, yS, Object.assign({ name: 'si-nc', means: eNcMeans, low: eNcLow, high: eNcHigh, dots: eNcDots }, blue));
  drawBars(g, yS, Object.assign({ name: 'si-nek6', means: eNekMeans, low: eNekLow, high: eNekHigh, dots: eNekDots }, red));
  drawYAxis(g, yS, { x: 1290, tickX: 1278.6, labelX: 1273, ticks: eYTicks, labels: eYLabels, fs: 21, dy: 7.5, lw: 2.5 });
  drawCatAxis(g, { y: 960.3, x1: 1278.6, x2: 1573, cats: eCategories, catX: catX, tickBottom: 971.7, labelY: 996, fs: 21, lw: 2.5 });
})();

/* ---------- Panel F ---------- */
(function () {
  const g = panel('panel-f');
  const yS = linearY(1419.3, 709);
  const catX = i => 188.9 + i * 151.6;
  const blue = { offset: -28.2, width: 32.5, fill: '#fff', stroke: '#2e5b9a', strokeW: 4, errColor: '#2e5b9a', errW: 2, capW: 20, dotStep: 13.2, catX: catX };
  const red = { offset: 28.2, width: 32.5, fill: '#fff', stroke: '#8a1a0f', strokeW: 4, errColor: '#8a1a0f', errW: 2, capW: 20, dotStep: 13.2, catX: catX };
  drawBars(g, yS, Object.assign({ name: 'si-nc', means: fNcMeans, low: fNcLow, high: fNcHigh, dots: fNcDots }, blue));
  drawBars(g, yS, Object.assign({ name: 'si-nek6', means: fNekMeans, low: fNekLow, high: fNekHigh, dots: fNekDots }, red));
  drawYAxis(g, yS, { x: 123, tickX: 111, labelX: 106, ticks: fYTicks, labels: fYLabels, fs: 21, dy: 7.7, lw: 2.5 });
  drawCatAxis(g, { y: 1419.3, x1: 111, x2: 406.3, cats: fCategories, catX: catX, tickBottom: 1431.7, labelY: 1455, fs: 21, lw: 2.5 });
})();

/* ---------- Panel G ---------- */
(function () {
  const g = panel('panel-g');
  const yS = linearY(1427.3, 35.5);
  const catX = i => 774 + i * 213.3;
  const common = { width: 49, stroke: '#000', strokeW: 2.5, errColor: '#000', errW: 2.5, capW: 28, capT: 3.5, capRound: true, catX: catX };
  drawBars(g, yS, Object.assign({ name: 'vector', offset: -39.6, means: gVectorMeans, high: gVectorHigh, fill: '#fff' }, common));
  drawBars(g, yS, Object.assign({ name: 'ybx1', offset: 40.4, means: gYbx1Means, high: gYbx1High, fill: '#f0c2cb' }, common));
  drawYAxis(g, yS, { x: 667.9, tickX: 662.6, labelX: 654.7, ticks: gYTicks, labels: gYLabels, fs: 21, dy: 7.5, lw: 2 });
  drawCatAxis(g, { y: 1427.3, x1: 662.6, x2: 1094, cats: gCategories, catX: catX, tickBottom: 1431.5, labelY: 1459.3, fs: 21.4, lw: 2 });
})();

/* ---------- Panel H ---------- */
(function () {
  const g = panel('panel-h');
  const yS = linearY(1426, 189.7);
  const catX = i => 1374.9 + i * 212.8;
  const common = { width: 33.7, stroke: '#000', strokeW: 3, errColor: '#000', errW: 2.7, capW: 21.5, catX: catX };
  drawBars(g, yS, Object.assign({ name: 'con', offset: -58, means: hConMeans, high: hConHigh, fill: '#fff' }, common));
  drawBars(g, yS, Object.assign({ name: 'si-ybx1-1', offset: 0, means: hSi1Means, high: hSi1High, fill: '#b5d8fb' }, common));
  drawBars(g, yS, Object.assign({ name: 'si-ybx1-2', offset: 58, means: hSi2Means, high: hSi2High, fill: '#a5aef5' }, common));
  drawYAxis(g, yS, { x: 1268.1, tickX: 1261.5, labelX: 1254.5, ticks: hYTicks, labels: hYLabels, fs: 21, dy: 8, lw: 3.5 });
  drawCatAxis(g, { y: 1426, x1: 1261.5, x2: 1693.6, cats: hCategories, catX: i => 1374.3 + i * 212.7, tickBottom: 1433.3, labelY: 1459.3, fs: 21, lw: 3.5 });
})();

/* ---------- Panel I ---------- */
(function () {
  const g = panel('panel-i');
  const yS = linearY(1878.3, 188.9);
  const catX = i => 222.4 + i * 148.6;
  const common = { width: 23, strokeW: 2.7, errColor: '#000', errW: 2, capW: 14.6, catX: catX };
  drawBars(g, yS, Object.assign({ name: 'sinc', offset: -40.7, means: iNcMeans, low: iNcLow, high: iNcHigh, fill: '#000', stroke: '#000' }, common));
  drawBars(g, yS, Object.assign({ name: 'siybx1-1', offset: 0, means: iSi1Means, low: iSi1Low, high: iSi1High, fill: '#a3c5ee', stroke: '#000' }, common));
  drawBars(g, yS, Object.assign({ name: 'siybx1-2', offset: 40.7, means: iSi2Means, low: iSi2Low, high: iSi2High, fill: '#e7aec2', stroke: '#000' }, common));
  drawYAxis(g, yS, { x: 155, tickX: 143.1, labelX: 137, ticks: iYTicks, labels: iYLabels, fs: 20.3, dy: 8, lw: 2.5 });
  drawCatAxis(g, { y: 1878.3, x1: 143.1, x2: 437.7, cats: iCategories, catX: i => 221.8 + i * 148.7, tickBottom: 1890.7, labelY: 1914.3, fs: 21.4, lw: 2.5 });
})();

/* ---------- Panel J ---------- */
(function () {
  const g = panel('panel-j');
  const yS = linearY(1874.3, 2.843);
  const xS = linearX(915.3, 170.8);
  drawDoseSeries(g, xS, yS, { name: 'si-ybx1-1', color: '#d93015', shape: 'square', points: jSi1Points, curve: jSi1Curve });
  drawDoseSeries(g, xS, yS, { name: 'si-ybx1-2', color: '#2040f0', shape: 'diamond', points: jSi2Points, curve: jSi2Curve });
  drawDoseSeries(g, xS, yS, { name: 'si-nc', color: '#000', shape: 'circle', points: jNcPoints, curve: jNcCurve });
  drawYAxis(g, yS, { x: 744.9, tickX: 733, labelX: 728, ticks: jYTicks, labels: jYLabels, minor: jYMinor, minorX: 738, fs: 21, dy: 7.5, lw: 2.3 });
  drawNumXAxis(g, xS, { x1: 733, y: 1874.3, ticks: doseXTicks, labels: doseXLabels, tickBottom: 1886, labelY: 1909.3, fs: 21, lw: 2.3 });
})();

/* ---------- Panel K ---------- */
(function () {
  const g = panel('panel-k');
  const yS = linearY(1866.7, 2.85);
  const xS = linearX(1499.2, 170.65);
  drawDoseSeries(g, xS, yS, { name: 'siybx1-2', color: '#4a9490', shape: 'diamond', points: kSi2Points, curve: kSi2Curve });
  drawDoseSeries(g, xS, yS, { name: 'siybx1-1', color: '#e87a74', shape: 'square', points: kSi1Points, curve: kSi1Curve });
  drawDoseSeries(g, xS, yS, { name: 'si-nc', color: '#000', shape: 'circle', points: kNcPoints, curve: kNcCurve });
  drawYAxis(g, yS, { x: 1328.8, tickX: 1316.7, labelX: 1311.3, ticks: kYTicks, labels: kYLabels, fs: 21, dy: 7.7, lw: 2.3 });
  drawNumXAxis(g, xS, { x1: 1316.7, y: 1866.7, ticks: doseXTicks, labels: doseXLabels, tickBottom: 1878.3, labelY: 1902, fs: 21, lw: 2.3 });
})();
</script>
</svg>
</body>
</html>
